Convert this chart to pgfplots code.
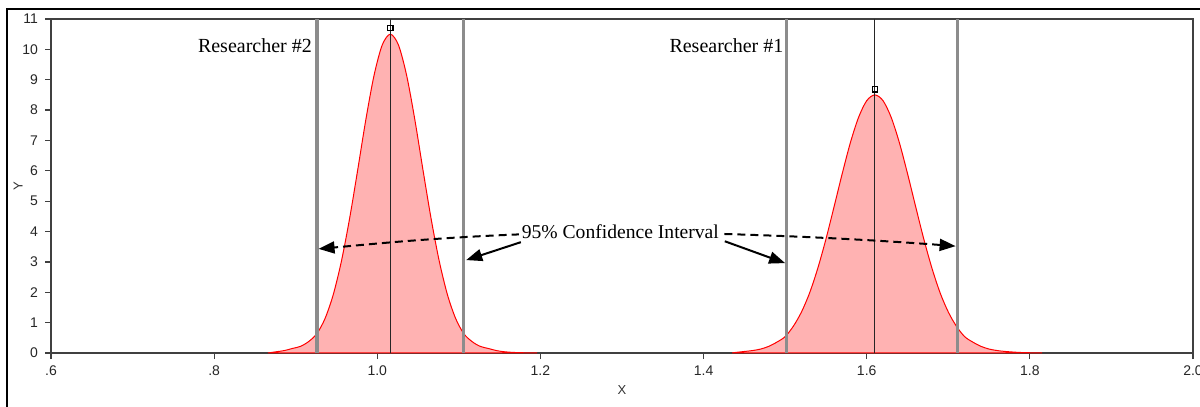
\documentclass[border=0pt]{standalone}
\usepackage{fontspec}
\setmainfont{Liberation Serif}
\setsansfont{Liberation Sans}
\usepackage{pgfplots}
\pgfplotsset{compat=1.18}
\usetikzlibrary{arrows.meta}

\begin{document}
\begin{tikzpicture}
\path[use as bounding box] (-25.5pt,-27pt) rectangle (574.5pt,176.5pt);
\begin{axis}[
  scale only axis,
  width=571pt, height=167pt,
  xmin=0.6, xmax=2.0, ymin=0, ymax=11,
  xtick={0.6,0.8,1.0,1.2,1.4,1.6,1.8,2.0},
  xticklabels={.6,.8,1.0,1.2,1.4,1.6,1.8,2.0},
  ytick={0,1,...,11},
  /pgf/number format/assume math mode=true,
  tick align=outside, tick pos=left,
  major tick length=3pt,
  axis line style={black!75, line width=0.8pt},
  every tick/.style={black!75, line width=0.6pt},
  tick label style={font=\sffamily\fontsize{7}{8}\selectfont, text=black!85},
  xlabel={X}, ylabel={Y},
  label style={font=\sffamily\fontsize{6.5}{8}\selectfont, text=black!80},
  xlabel style={yshift=2pt},
  ylabel style={yshift=-7pt},
  clip=false,
]
% Researcher #2
\addplot[red, line width=0.5pt, fill=red!30, smooth] coordinates {
(0.866,0) (0.876,0.04) (0.886,0.08) (0.896,0.15) (0.906,0.22) (0.916,0.38)
(0.926,0.64) (0.936,1.14) (0.946,1.92) (0.956,3.02) (0.966,4.42) (0.976,6.03)
(0.986,7.69) (0.996,9.14) (1.006,10.14) (1.016,10.5) (1.026,10.14) (1.036,9.14)
(1.046,7.69) (1.056,6.03) (1.066,4.42) (1.076,3.02) (1.086,1.92) (1.096,1.14)
(1.106,0.64) (1.116,0.38) (1.126,0.22) (1.136,0.15) (1.146,0.08) (1.156,0.04)
(1.166,0.02) (1.176,0.01) (1.186,0.005) (1.196,0)
} \closedcycle;
% Researcher #1
\addplot[red, line width=0.5pt, fill=red!30, smooth] coordinates {
(1.435,0) (1.44,0.02) (1.45,0.05) (1.46,0.08) (1.47,0.13) (1.48,0.22) (1.49,0.36)
(1.50,0.54) (1.51,0.88) (1.52,1.35) (1.53,1.98) (1.54,2.79) (1.55,3.75)
(1.56,4.82) (1.57,5.91) (1.58,6.93) (1.59,7.76) (1.60,8.31) (1.61,8.5)
(1.62,8.31) (1.63,7.76) (1.64,6.93) (1.65,5.91) (1.66,4.82) (1.67,3.75)
(1.68,2.79) (1.69,1.98) (1.70,1.35) (1.71,0.88) (1.72,0.54) (1.73,0.36)
(1.74,0.22) (1.75,0.13) (1.76,0.08) (1.77,0.05) (1.78,0.03) (1.79,0.015)
(1.80,0.008) (1.815,0)
} \closedcycle;
% confidence interval limits
\addplot[black!45, line width=1.6pt] coordinates {(0.926,0) (0.926,11)};
\addplot[black!45, line width=1.6pt] coordinates {(1.106,0) (1.106,11)};
\addplot[black!45, line width=1.6pt] coordinates {(1.502,0) (1.502,11)};
\addplot[black!45, line width=1.6pt] coordinates {(1.711,0) (1.711,11)};
% means
\addplot[black!85, line width=0.6pt] coordinates {(1.016,0) (1.016,11)};
\addplot[black!85, line width=0.6pt] coordinates {(1.61,0) (1.61,11)};
\addplot[only marks, mark=square, mark size=1.3pt, black, mark options={line width=0.6pt}]
  coordinates {(1.016,10.7) (1.61,8.68)};

\draw[black, line width=1pt, dash pattern=on 4pt off 2.5pt, -{Triangle[length=8pt,width=6pt]}]
  (axis cs:1.27,3.98) .. controls (axis cs:1.10,3.9) and (axis cs:1.0,3.6) .. (axis cs:0.928,3.43);
\draw[black, line width=1pt, dash pattern=on 4pt off 2.5pt, -{Triangle[length=8pt,width=6pt]}]
  (axis cs:1.33,3.98) .. controls (axis cs:1.50,3.9) and (axis cs:1.62,3.7) .. (axis cs:1.709,3.52);
\draw[black, line width=1pt, -{Triangle[length=8pt,width=6pt]}]
  (axis cs:1.176,3.65) -- (axis cs:1.109,3.06);
\draw[black, line width=1pt, -{Triangle[length=8pt,width=6pt]}]
  (axis cs:1.426,3.68) -- (axis cs:1.500,2.96);
\node[fill=white, inner sep=1.5pt, font=\fontsize{9.8}{11}\selectfont]
  at (axis cs:1.298,4.01) {95\% Confidence Interval};
\node[font=\fontsize{10}{12}\selectfont] at (axis cs:0.850,10.13) {Researcher \#2};
\node[font=\fontsize{10}{12}\selectfont] at (axis cs:1.428,10.13) {Researcher \#1};
\end{axis}
\draw[black, line width=0.8pt] (-22pt,-30pt) -- (-22pt,172pt) -- (580pt,172pt);
\end{tikzpicture}
\end{document}
